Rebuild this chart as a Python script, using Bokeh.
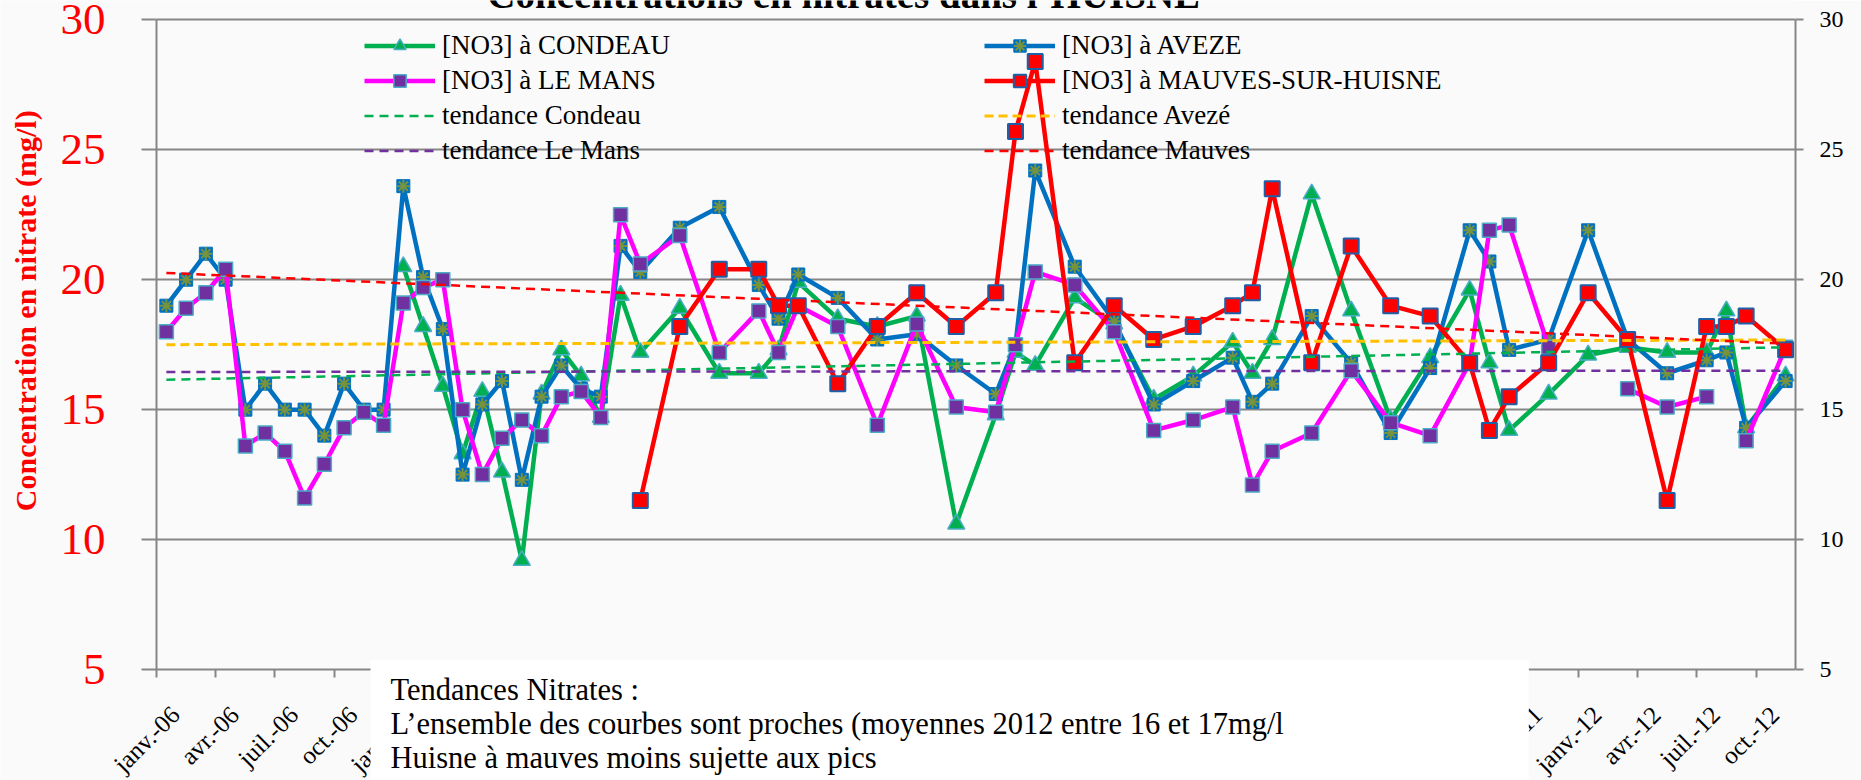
import math
from bokeh.plotting import figure
from bokeh.models import (Range1d, LinearAxis, FixedTicker, Legend, LegendItem,
                          Label, LabelSet, ColumnDataSource)
from bokeh.core.properties import value
from bokeh.embed import file_html
from bokeh.resources import INLINE

nan = float("nan")

# ---- data (month index from janv.-06 = 0; values in mg/l) ----
tick_months = list(range(0, 83, 3))
tick_labels = ["janv.-06", "avr.-06", "juil.-06", "oct.-06",
               "janv.-07", "avr.-07", "juil.-07", "oct.-07",
               "janv.-08", "avr.-08", "juil.-08", "oct.-08",
               "janv.-09", "avr.-09", "juil.-09", "oct.-09",
               "janv.-10", "avr.-10", "juil.-10", "oct.-10",
               "janv.-11", "avr.-11", "juil.-11", "oct.-11",
               "janv.-12", "avr.-12", "juil.-12", "oct.-12"]
y_ticks = [5, 10, 15, 20, 25, 30]

cond_m = [12, 13, 14, 15, 16, 17, 18, 19, 20, 21, 22, 23, 24, 26, 28, 30, 31, 32, 34, 36,
          38, 40, 42, 43, 44, 46, 48, 50, 52, 54, 55, 56, 58, 60, 62, 64, 66, 67, 68, 70,
          72, 74, 76, 78, 79, 80, 82]
cond_v = [20.5, 18.2, 15.9, 13.3, 15.7, 12.6, 9.2, 15.6, 17.3, 16.3, 14.7, 19.4, 17.2,
          18.9, 16.4, 16.4, 17.3, 19.9, 18.5, 18.2, 18.6, 10.6, 14.8, 17.2, 16.7, 19.3,
          18.3, 15.4, 16.3, 17.6, 16.4, 17.7, 23.3, 18.8, 14.6, 17.0, 19.6, 16.8, 14.2,
          15.6, 17.1, 17.4, 17.2, 17.2, 18.8, 14.3, 16.3]

ave_m = [0, 1, 2, 3, 4, 5, 6, 7, 8, 9, 10, 11, 12, 13, 14, 15, 16, 17, 18, 19, 20, 21, 22,
         23, 24, 26, 28, 30, 31, 32, 34, 36, 38, 40, 42, 43, 44, 46, 48, 50, 52, 54, 55,
         56, 58, 60, 62, 64, 66, 67, 68, 70, 72, 74, 76, 78, 79, 80, 82]
ave_v = [19.0, 20.0, 21.0, 20.0, 15.0, 16.0, 15.0, 15.0, 14.0, 16.0, 15.0, 15.0, 23.6,
         20.1, 18.1, 12.5, 15.2, 16.1, 12.3, 15.5, 16.7, 15.8, 15.5, 21.3, 20.3,
         22.0, 22.8, 19.8, 18.5, 20.2, 19.3, 17.7, 17.9, 16.7, 15.6, 17.5, 24.2, 20.5,
         18.4, 15.2, 16.1, 17.0, 15.3, 16.0, 18.6, 16.8, 14.1, 16.6, 21.9, 20.7, 17.3,
         17.7, 21.9, 17.7, 16.4, 16.9, 17.2, 14.3, 16.1]

lm_m = ave_m
lm_v = [18.0, 18.9, 19.5, 20.4, 13.6, 14.1, 13.4, 11.6, 12.9, 14.3, 14.9, 14.4, 19.1,
        19.7, 20.0, 15.0, 12.5, 13.9, 14.6, 14.0, 15.5, 15.7, 14.7, 22.5, 20.6,
        21.7, 17.2, 18.8, 17.2, 19.0, 18.2, 14.4, 18.3, 15.1, 14.9, 17.5, 20.3, 19.8,
        18.0, 14.2, 14.6, 15.1, 12.1, 13.4, 14.1, 16.5, 14.5, 14.0, 16.8, 21.9, 22.1,
        17.4, nan, 15.8, 15.1, 15.5, nan, 13.8, 17.4]

mau_m = [24, 26, 28, 30, 31, 32, 34, 36, 38, 40, 42, 43, 44, 46, 48, 50, 52, 54, 55, 56,
         58, 60, 62, 64, 66, 67, 68, 70, 72, 74, 76, 78, 79, 80, 82]
mau_v = [11.5, 18.2, 20.4, 20.4, 19.0, 19.0, 16.0, 18.2, 19.5, 18.2, 19.5, 25.7, 28.4,
         16.8, 19.0, 17.7, 18.2, 19.0, 19.5, 23.5, 16.8, 21.3, 19.0, 18.6, 16.8, 14.2,
         15.5, 16.8, 19.5, 17.7, 11.5, 18.2, 18.2, 18.6, 17.3]

trend_m = [0, 82]
trend_cond = [16.15, 17.4]
trend_ave = [17.5, 17.68]
trend_lm = [16.45, 16.5]
trend_mau = [20.26, 17.54]

note_text = ("Tendances Nitrates :\n"
             "L’ensemble des courbes sont proches (moyennes 2012 entre 16 et 17mg/l\n"
             "Huisne à mauves moins sujette aux pics")

FONT = "Liberation Serif"
BG = "#fafafa"
GRID = "#868686"

def mid(ms):
    return [m + 0.5 for m in ms]

# The frame spans the whole canvas (except the right axis panel) so that the
# month labels, the note box and the clipped title can be drawn; the value
# axis is pinned at janv.-06.
PX = 26.0                        # pixels per mg/l
PXM = (1795 - 156) / 83.0        # pixels per month
y_top = 30 + 19.3 / PX
y_bot = 5 - 111.0 / PX
x_left = -156 / PXM

p = figure(width=1861, height=780, output_backend="svg", toolbar_location=None,
           x_range=Range1d(x_left, 83), y_range=Range1d(y_bot, y_top),
           min_border_left=0, min_border_right=66, min_border_top=0,
           min_border_bottom=0, background_fill_color=BG, border_fill_color=BG,
           outline_line_color=None)

p.xaxis.visible = False

p.ygrid.ticker = FixedTicker(ticks=y_ticks)
p.xgrid.ticker = FixedTicker(ticks=tick_months)
for g in (p.xgrid[0], p.ygrid[0]):
    g.grid_line_color = GRID
    g.grid_line_width = 2
try:
    p.ygrid[0].cross_bounds = (0, 83)
    p.xgrid[0].cross_bounds = (5 - 7.5 / PX, 5)
except AttributeError:
    p.xgrid.visible = False
    p.ygrid.visible = False
    p.segment(x0=0, x1=83, y0=y_ticks, y1=y_ticks, line_color=GRID, line_width=2,
              level="underlay")
    p.segment(x0=tick_months, x1=tick_months, y0=5 - 7.5 / PX, y1=5,
              line_color=GRID, line_width=2, level="underlay")

# month labels, rotated, ending just right of each mid-month position
tick_src = ColumnDataSource(dict(x=[m + 9 / PXM for m in mid(tick_months)],
                                 text=tick_labels))
p.add_layout(LabelSet(x="x", y=5 - 41.0 / PX, text="text", source=tick_src,
                      angle=math.pi / 4, text_align="right", text_baseline="middle",
                      text_font=value(FONT), text_font_size="25px",
                      text_color="black"))

ya = p.yaxis[0]
ya.fixed_location = 0
ya.bounds = (5, 30)
ya.ticker = FixedTicker(ticks=y_ticks, minor_ticks=[])
ya.major_label_text_font = FONT
ya.major_label_text_font_size = "45px"
ya.major_label_text_color = "#ff0000"
ya.axis_line_color = GRID
ya.axis_line_width = 2
ya.major_tick_line_color = GRID
ya.major_tick_line_width = 2
ya.major_tick_out = 15
ya.major_tick_in = 0
ya.minor_tick_line_color = None
ya.major_label_standoff = 36
ya.axis_label = "\u00a0" * 9 + "Concentration en nitrate (mg/l)"
ya.axis_label_text_font = FONT
ya.axis_label_text_font_style = "bold"
ya.axis_label_text_font_size = "30px"
ya.axis_label_text_color = "#ff0000"
ya.axis_label_standoff = 16

ra = LinearAxis(bounds=(5, 30), ticker=FixedTicker(ticks=y_ticks, minor_ticks=[]))
ra.major_label_text_font = FONT
ra.major_label_text_font_size = "24px"
ra.major_label_text_color = "black"
ra.axis_line_color = GRID
ra.axis_line_width = 2
ra.major_tick_line_color = GRID
ra.major_tick_line_width = 2
ra.major_tick_out = 8
ra.major_tick_in = 0
ra.minor_tick_line_color = None
ra.major_label_standoff = 16
p.add_layout(ra, "right")

LW = 4.5
c_line = p.line(mid(cond_m), cond_v, line_color="#00b050", line_width=LW)
c_mk = p.scatter(mid(cond_m), cond_v, marker="triangle", size=17,
                 fill_color="#00b050", line_color="#4bacc6", line_width=1.5)
a_line = p.line(mid(ave_m), ave_v, line_color="#0070c0", line_width=LW)
a_mk1 = p.scatter(mid(ave_m), ave_v, marker="square", size=13,
                  fill_color="#0070c0", line_color="#0070c0", line_width=1)
a_mk2 = p.scatter(mid(ave_m), ave_v, marker="asterisk", size=13,
                  line_color="#77933c", line_width=2)
l_line = p.line(mid(lm_m), lm_v, line_color="#ff00ff", line_width=LW)
l_mk = p.scatter(mid(lm_m), lm_v, marker="square", size=14,
                 fill_color="#7030a0", line_color="#4bacc6", line_width=1.5)
m_line = p.line(mid(mau_m), mau_v, line_color="#ff0000", line_width=LW)
m_mk = p.scatter(mid(mau_m), mau_v, marker="square", size=15,
                 fill_color="#ff0000", line_color="#1f5fa8", line_width=2)

tc = p.line(mid(trend_m), trend_cond, line_color="#00b050", line_width=2.5, line_dash="9 6")
ta = p.line(mid(trend_m), trend_ave, line_color="#ffc000", line_width=3, line_dash="9 5")
tl = p.line(mid(trend_m), trend_lm, line_color="#7030a0", line_width=2.5, line_dash="9 6")
tm = p.line(mid(trend_m), trend_mau, line_color="#ff0000", line_width=2.5, line_dash="9 6")

def make_legend(items, loc):
    return Legend(items=items, location=loc, background_fill_alpha=0,
                  border_line_color=None, padding=0, margin=0, glyph_width=71,
                  glyph_height=31, label_height=31, label_standoff=7, spacing=4,
                  label_text_font=FONT, label_text_font_size="27px",
                  label_text_color="black")

leg1 = make_legend([
    LegendItem(label="[NO3] à CONDEAU", renderers=[c_line, c_mk]),
    LegendItem(label="[NO3] à LE MANS", renderers=[l_line, l_mk]),
    LegendItem(label="tendance Condeau", renderers=[tc]),
    LegendItem(label="tendance Le Mans", renderers=[tl]),
], (364, 614))
leg2 = make_legend([
    LegendItem(label="[NO3] à AVEZE", renderers=[a_line, a_mk1, a_mk2]),
    LegendItem(label="[NO3] à MAUVES-SUR-HUISNE", renderers=[m_line, m_mk]),
    LegendItem(label="tendance Avezé", renderers=[ta]),
    LegendItem(label="tendance Mauves", renderers=[tm]),
], (984, 614))
p.add_layout(leg1)
p.add_layout(leg2)

# note box (white background) over the lower axis area
p.add_layout(Label(x=(370 - 156) / PXM, y=30 - (660 - 19.3) / PX, text=note_text,
                   text_font=FONT, text_font_size="30.5px", text_line_height=1.0,
                   text_baseline="top", text_align="left", text_color="black",
                   background_fill_color="white", background_fill_alpha=1.0,
                   padding=dict(left=20, right=245, top=13, bottom=12),
                   level="overlay"))

p.add_layout(Label(x=34.8, y=30.15, text="Concentrations en nitrates dans l’HUISNE",
                   text_font=FONT, text_font_size="39px", text_font_style="bold",
                   text_align="center", text_baseline="bottom", text_color="black"))

open("out.html", "w").write(file_html(p, INLINE))
